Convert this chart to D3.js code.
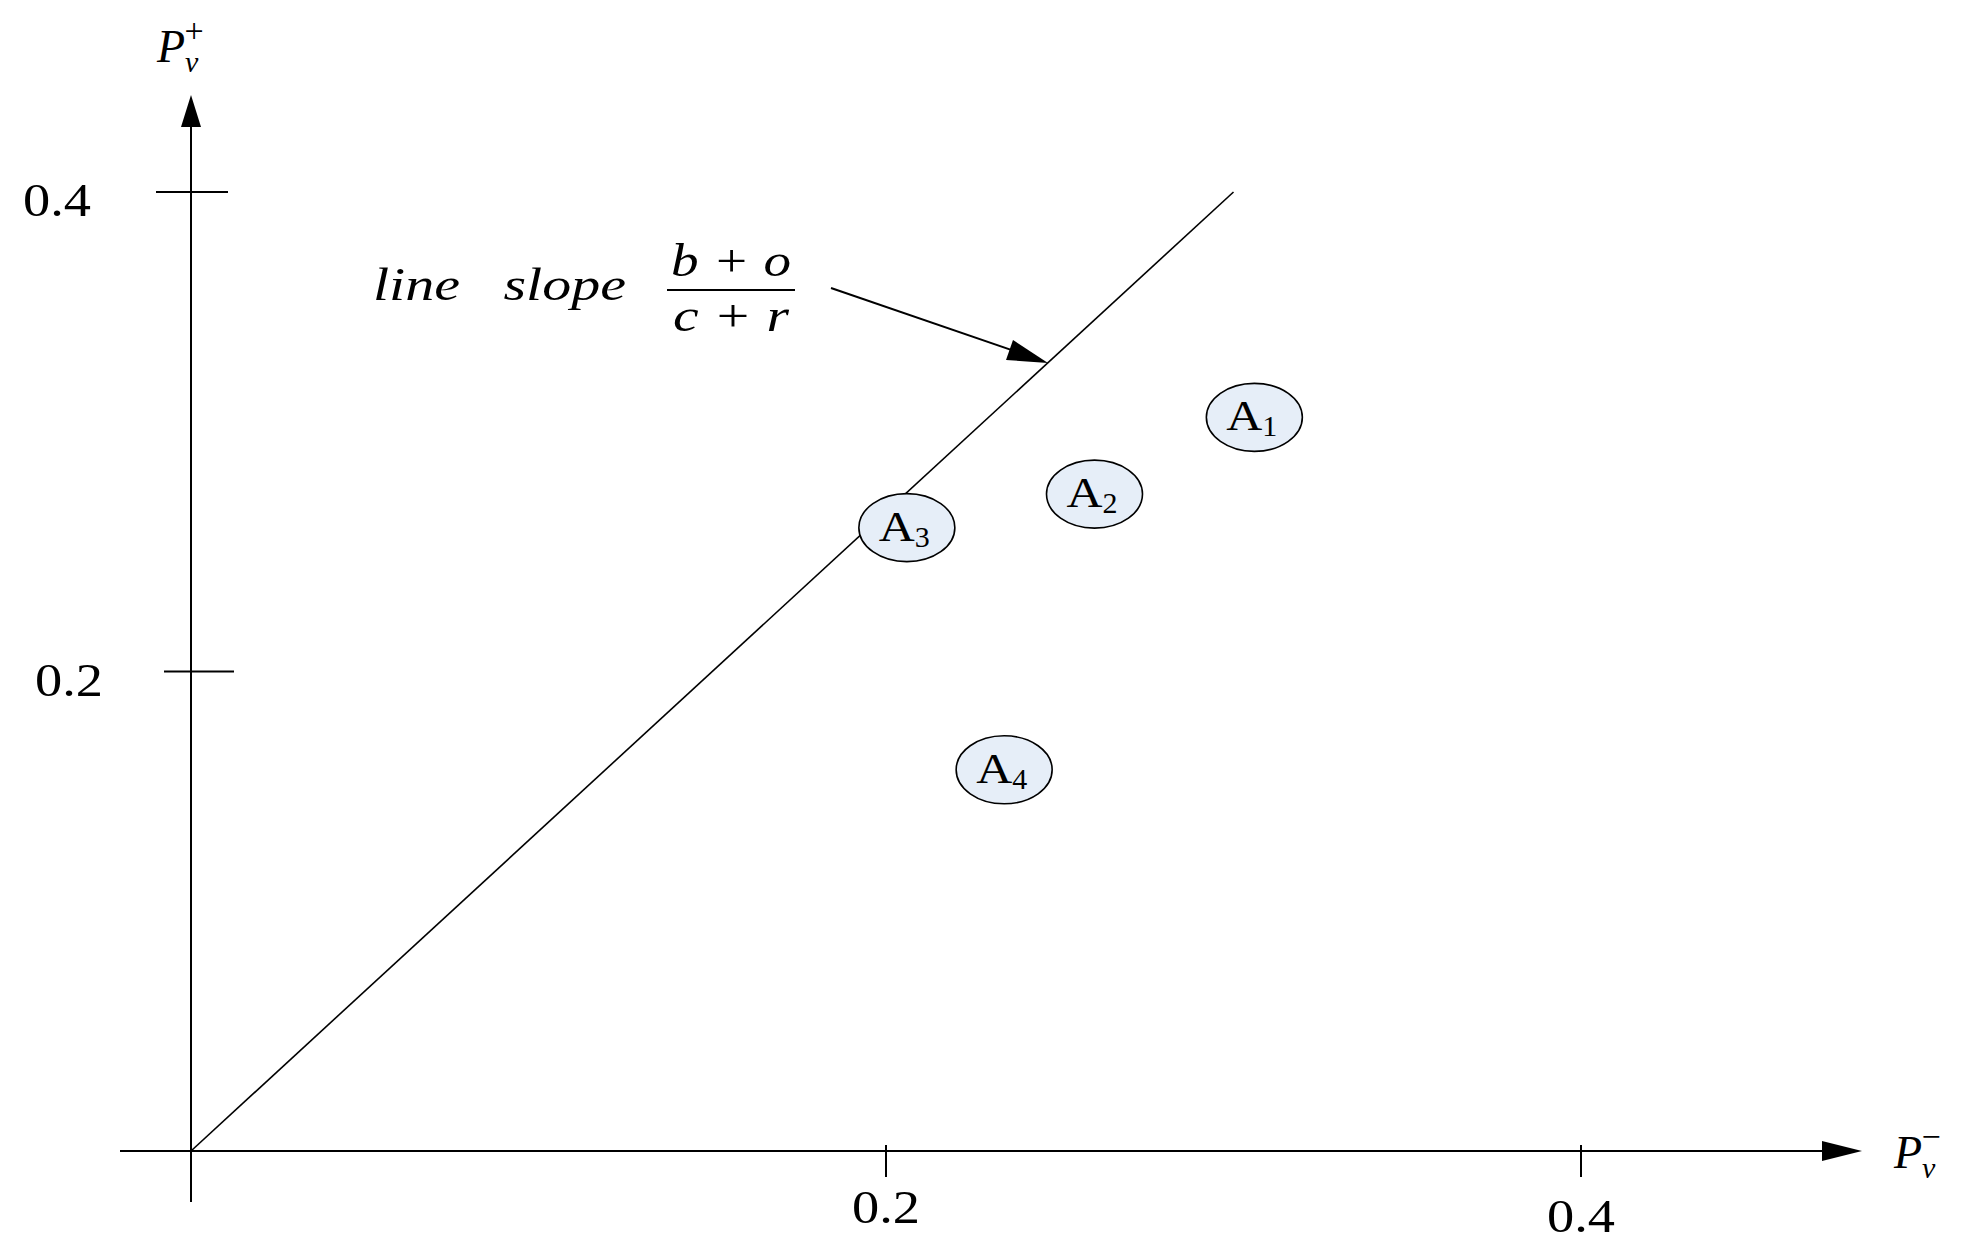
<!DOCTYPE html>
<html>
<head>
<meta charset="utf-8">
<script src="https://cdn.jsdelivr.net/npm/d3@7"></script>
<style>
  body { margin: 0; background: #fff; }
  text { font-family: "Liberation Serif", "Times New Roman", serif; fill: #000; }
</style>
</head>
<body>
<svg id="chart" width="1974" height="1256"></svg>
<script>
var xTicks = [0.2, 0.4];
var yTicks = [0.2, 0.4];
var slopeLine = [[0, 0], [0.3, 0.4]];
var alternatives = ['1', '2', '3', '4'];
var negValues = [0.306, 0.260, 0.206, 0.234];
var posValues = [0.306, 0.274, 0.260, 0.159];

var svg = d3.select('#chart');
var x = d3.scaleLinear().domain([0, 0.4]).range([191, 1581]);
var y = d3.scaleLinear().domain([0, 0.4]).range([1151, 192]);

function arrowHead(x0, y0, dir) {
  var p = dir === 'r'
    ? [[x0, y0], [x0 - 40, y0 - 10], [x0 - 40, y0 + 10]]
    : [[x0, y0], [x0 - 10, y0 + 32], [x0 + 10, y0 + 32]];
  svg.append('path').attr('d', d3.line()(p) + 'Z').attr('fill', '#000');
}

// axes
svg.append('line').attr('x1', 120).attr('x2', 1840)
  .attr('y1', y(0)).attr('y2', y(0)).attr('stroke', '#000').attr('stroke-width', 2);
arrowHead(1862, y(0), 'r');
svg.append('line').attr('x1', x(0)).attr('x2', x(0))
  .attr('y1', 1202).attr('y2', 120).attr('stroke', '#000').attr('stroke-width', 2);
arrowHead(x(0), 95, 'u');

svg.selectAll('.xt').data(xTicks).enter().append('line')
  .attr('x1', x).attr('x2', x).attr('y1', 1145).attr('y2', 1177)
  .attr('stroke', '#000').attr('stroke-width', 2);
svg.selectAll('.xl').data(xTicks).enter().append('text')
  .attr('x', function(d) { return x(d) - 34; }).attr('y', function(d, i) { return 1223 + i * 9; })
  .attr('font-size', 46).attr('textLength', 68).attr('lengthAdjust', 'spacingAndGlyphs')
  .text(function(d) { return d.toFixed(1); });

svg.selectAll('.yt').data(yTicks).enter().append('text');
svg.selectAll('.ytl').data(yTicks).enter().append('line')
  .attr('x1', function(d, i) { return i ? 156 : 164; }).attr('x2', function(d, i) { return i ? 228 : 234; })
  .attr('y1', y).attr('y2', y).attr('stroke', '#000').attr('stroke-width', 2);
svg.selectAll('.yl').data(yTicks).enter().append('text')
  .attr('x', function(d, i) { return i ? 23 : 35; })
  .attr('y', function(d) { return y(d) + 24; })
  .attr('font-size', 46).attr('textLength', 68).attr('lengthAdjust', 'spacingAndGlyphs')
  .text(function(d) { return d.toFixed(1); });

// axis titles
function axisTitle(px, py, sup) {
  var t = svg.append('text').attr('x', px).attr('y', py).attr('font-size', 46).attr('font-style', 'italic');
  t.append('tspan').text('P');
  t.append('tspan').attr('font-size', 30).attr('dy', 10).text('v');
  t.append('tspan').attr('font-size', 34).attr('dx', -14).attr('dy', -30).attr('font-style', 'normal').text(sup);
}
axisTitle(157, 62, '+');
axisTitle(1894, 1168, '\u2212');

// slope line
svg.append('path').datum(slopeLine)
  .attr('d', d3.line().x(function(d) { return x(d[0]); }).y(function(d) { return y(d[1]); }))
  .attr('stroke', '#000').attr('stroke-width', 1.6).attr('fill', 'none');

// annotation
svg.append('text').attr('x', 373).attr('y', 300).attr('font-size', 46)
  .attr('font-style', 'italic').attr('xml:space', 'preserve')
  .attr('textLength', 253).attr('lengthAdjust', 'spacingAndGlyphs').text('line   slope');
svg.append('text').attr('x', 671).attr('y', 276).attr('font-size', 46)
  .attr('font-style', 'italic').attr('textLength', 120).attr('lengthAdjust', 'spacingAndGlyphs').text('b + o');
svg.append('line').attr('x1', 667).attr('x2', 795).attr('y1', 290).attr('y2', 290)
  .attr('stroke', '#000').attr('stroke-width', 2);
svg.append('text').attr('x', 673).attr('y', 331).attr('font-size', 46)
  .attr('font-style', 'italic').attr('textLength', 116).attr('lengthAdjust', 'spacingAndGlyphs').text('c + r');
svg.append('line').attr('x1', 831).attr('y1', 288).attr('x2', 1020).attr('y2', 353)
  .attr('stroke', '#000').attr('stroke-width', 2);
svg.append('path').attr('d', 'M1048,363L1006,360L1013,340Z').attr('fill', '#000');

// alternatives
var g = svg.selectAll('.alt').data(alternatives).enter().append('g')
  .attr('transform', function(d, i) { return 'translate(' + x(negValues[i]) + ',' + y(posValues[i]) + ')'; });
g.append('ellipse').attr('rx', 48).attr('ry', 34)
  .attr('fill', '#e6eef8').attr('stroke', '#000').attr('stroke-width', 1.6);
var lab = g.append('text').attr('x', -28).attr('y', 13).attr('font-size', 42);
lab.append('tspan').attr('textLength', 36).attr('lengthAdjust', 'spacingAndGlyphs').text('A');
lab.append('tspan').attr('font-size', 30).attr('dy', 6).text(function(d) { return d; });
</script>
</body>
</html>
